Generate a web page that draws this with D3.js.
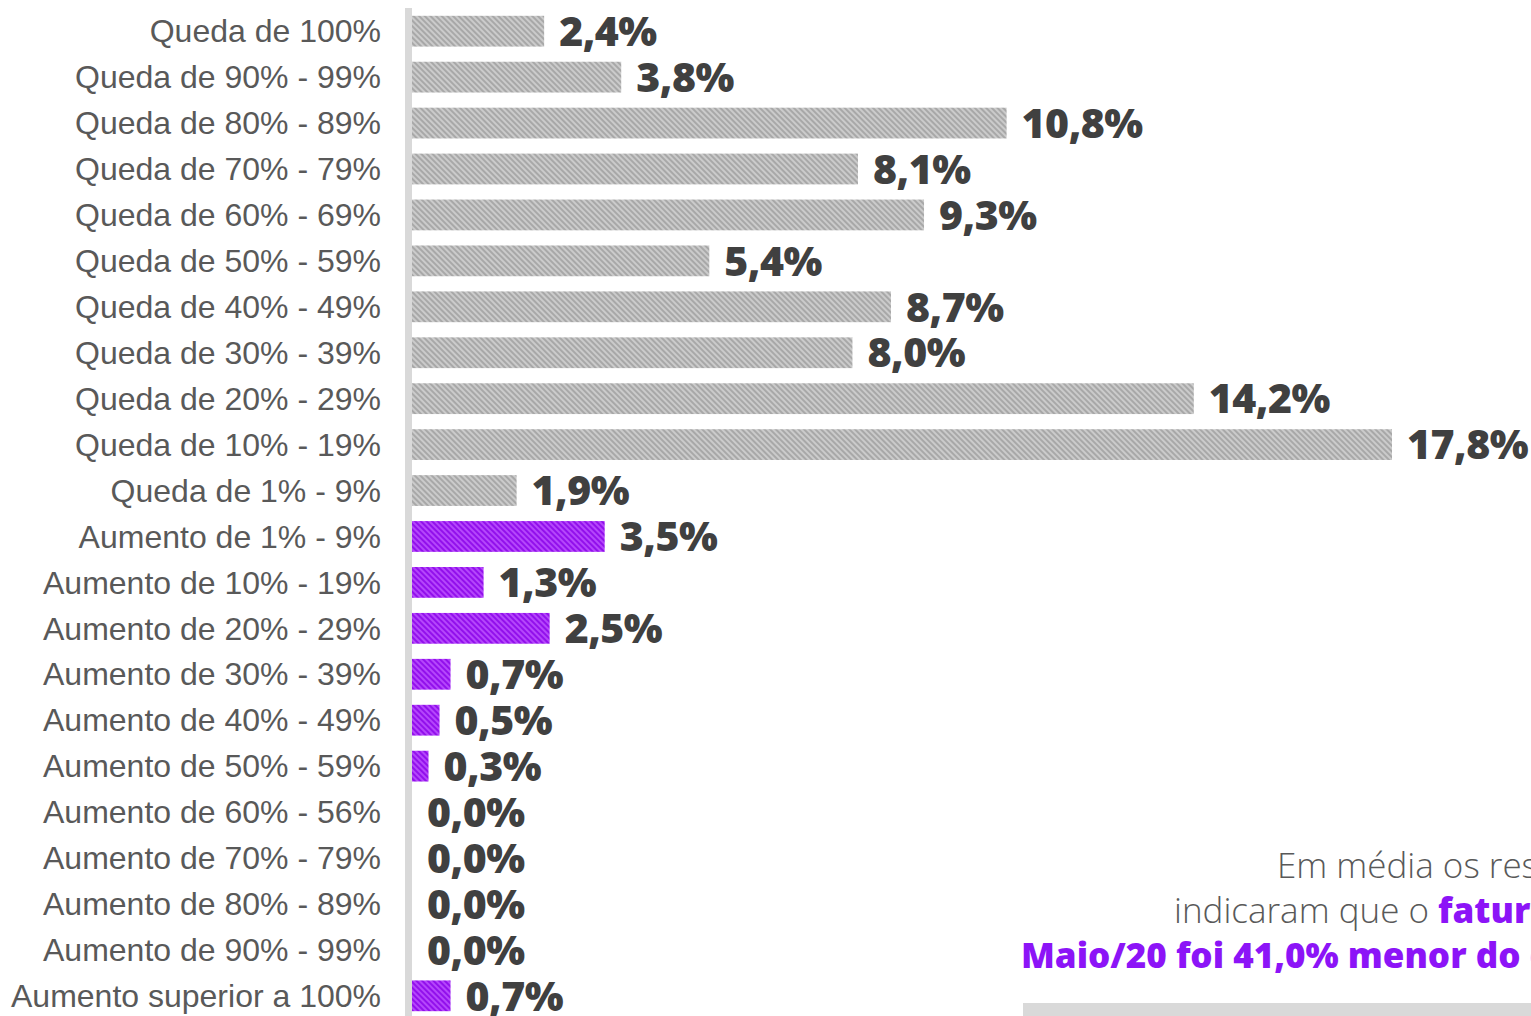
<!DOCTYPE html>
<html>
<head>
<meta charset="utf-8">
<script src="https://cdn.jsdelivr.net/npm/d3@7"></script>
<style>
  html, body { margin: 0; padding: 0; background: #fff; overflow: hidden; }
</style>
</head>
<body>
<div id="chart"></div>
<script>
// Chart data
var categories = [
  "Queda de 100%", "Queda de 90% - 99%", "Queda de 80% - 89%", "Queda de 70% - 79%",
  "Queda de 60% - 69%", "Queda de 50% - 59%", "Queda de 40% - 49%", "Queda de 30% - 39%",
  "Queda de 20% - 29%", "Queda de 10% - 19%", "Queda de 1% - 9%",
  "Aumento de 1% - 9%", "Aumento de 10% - 19%", "Aumento de 20% - 29%", "Aumento de 30% - 39%",
  "Aumento de 40% - 49%", "Aumento de 50% - 59%", "Aumento de 60% - 56%", "Aumento de 70% - 79%",
  "Aumento de 80% - 89%", "Aumento de 90% - 99%", "Aumento superior a 100%"
];
var values = [2.4, 3.8, 10.8, 8.1, 9.3, 5.4, 8.7, 8.0, 14.2, 17.8, 1.9,
              3.5, 1.3, 2.5, 0.7, 0.5, 0.3, 0.0, 0.0, 0.0, 0.0, 0.7];
var groups = ["queda", "queda", "queda", "queda", "queda", "queda", "queda", "queda", "queda", "queda", "queda",
              "aumento", "aumento", "aumento", "aumento", "aumento", "aumento", "aumento", "aumento", "aumento", "aumento", "aumento"];
var noteLines = [
  [{t: "Em média os respondentes", b: false}],
  [{t: "indicaram que o ", b: false}, {t: "faturamento em", b: true}],
  [{t: "Maio/20 foi 41,0% menor do que o normal", b: true}]
];

var W = 1531, H = 1016;
var x0 = 412;

var svg = d3.select("#chart").append("svg")
  .attr("width", W)
  .attr("height", H);

// Striped patterns
var defs = svg.append("defs");
function stripes(id, c1, c2) {
  var p = defs.append("pattern")
    .attr("id", id)
    .attr("patternUnits", "userSpaceOnUse")
    .attr("width", 4).attr("height", 4)
    .attr("patternTransform", "rotate(-45)");
  p.append("rect").attr("width", 4).attr("height", 4).attr("fill", c1);
  p.append("rect").attr("width", 2).attr("height", 4).attr("fill", c2);
}
stripes("hatchGray", "#cbcbcb", "#a8a8a8");
stripes("hatchPurple", "#b547fb", "#9210ec");

var x = d3.scaleLinear()
  .domain([0, 17.8])
  .range([x0, 1392]);

var y = d3.scaleBand()
  .domain(categories)
  .range([8, 1019])
  .paddingInner(0.33)
  .paddingOuter(0.17);

// axis line
svg.append("rect")
  .attr("x", 405).attr("y", 8)
  .attr("width", 7).attr("height", H - 8)
  .attr("fill", "#d9d9d9");

// category labels
svg.append("g")
  .selectAll("text")
  .data(categories)
  .enter().append("text")
  .attr("x", 381)
  .attr("y", function(d) { return y(d) + y.bandwidth() / 2; })
  .attr("dy", "0.35em")
  .attr("text-anchor", "end")
  .attr("font-family", "'Liberation Sans', Arial, sans-serif")
  .attr("font-size", 32)
  .attr("fill", "#595959")
  .text(function(d) { return d; });

// bars
svg.append("g")
  .selectAll("rect")
  .data(values)
  .enter().append("rect")
  .attr("x", x(0))
  .attr("y", function(d, i) { return y(categories[i]); })
  .attr("width", function(d) { return x(d) - x(0); })
  .attr("height", y.bandwidth())
  .attr("fill", function(d, i) { return groups[i] === "queda" ? "url(#hatchGray)" : "url(#hatchPurple)"; });

// value labels
svg.append("g")
  .selectAll("text")
  .data(values)
  .enter().append("text")
  .attr("x", function(d) { return x(d) + 15; })
  .attr("y", function(d, i) { return y(categories[i]) + y.bandwidth() / 2; })
  .attr("dy", "0.36em")
  .attr("font-family", "'Open Sans', 'DejaVu Sans', sans-serif")
  .attr("font-weight", 800)
  .attr("font-size", 41)
  .attr("letter-spacing", -0.5)
  .attr("fill", "#404040")
  .text(function(d) { return d.toFixed(1).replace(".", ",") + "%"; });

// note text
var noteX = [1277, 1174, 1021];
var noteY = [878, 923, 968];
noteLines.forEach(function(line, i) {
  var t = svg.append("text")
    .attr("x", noteX[i])
    .attr("y", noteY[i])
    .attr("font-family", "'Open Sans', sans-serif")
    .attr("font-size", 35);
  line.forEach(function(part) {
    t.append("tspan")
      .attr("font-weight", part.b ? 800 : 300)
      .attr("fill", part.b ? "#8c14f7" : "#595959")
      .text(part.t);
  });
});

svg.append("rect")
  .attr("x", 1023).attr("y", 1003)
  .attr("width", W - 1023).attr("height", 20)
  .attr("fill", "#d9d9d9");
</script>
</body>
</html>
